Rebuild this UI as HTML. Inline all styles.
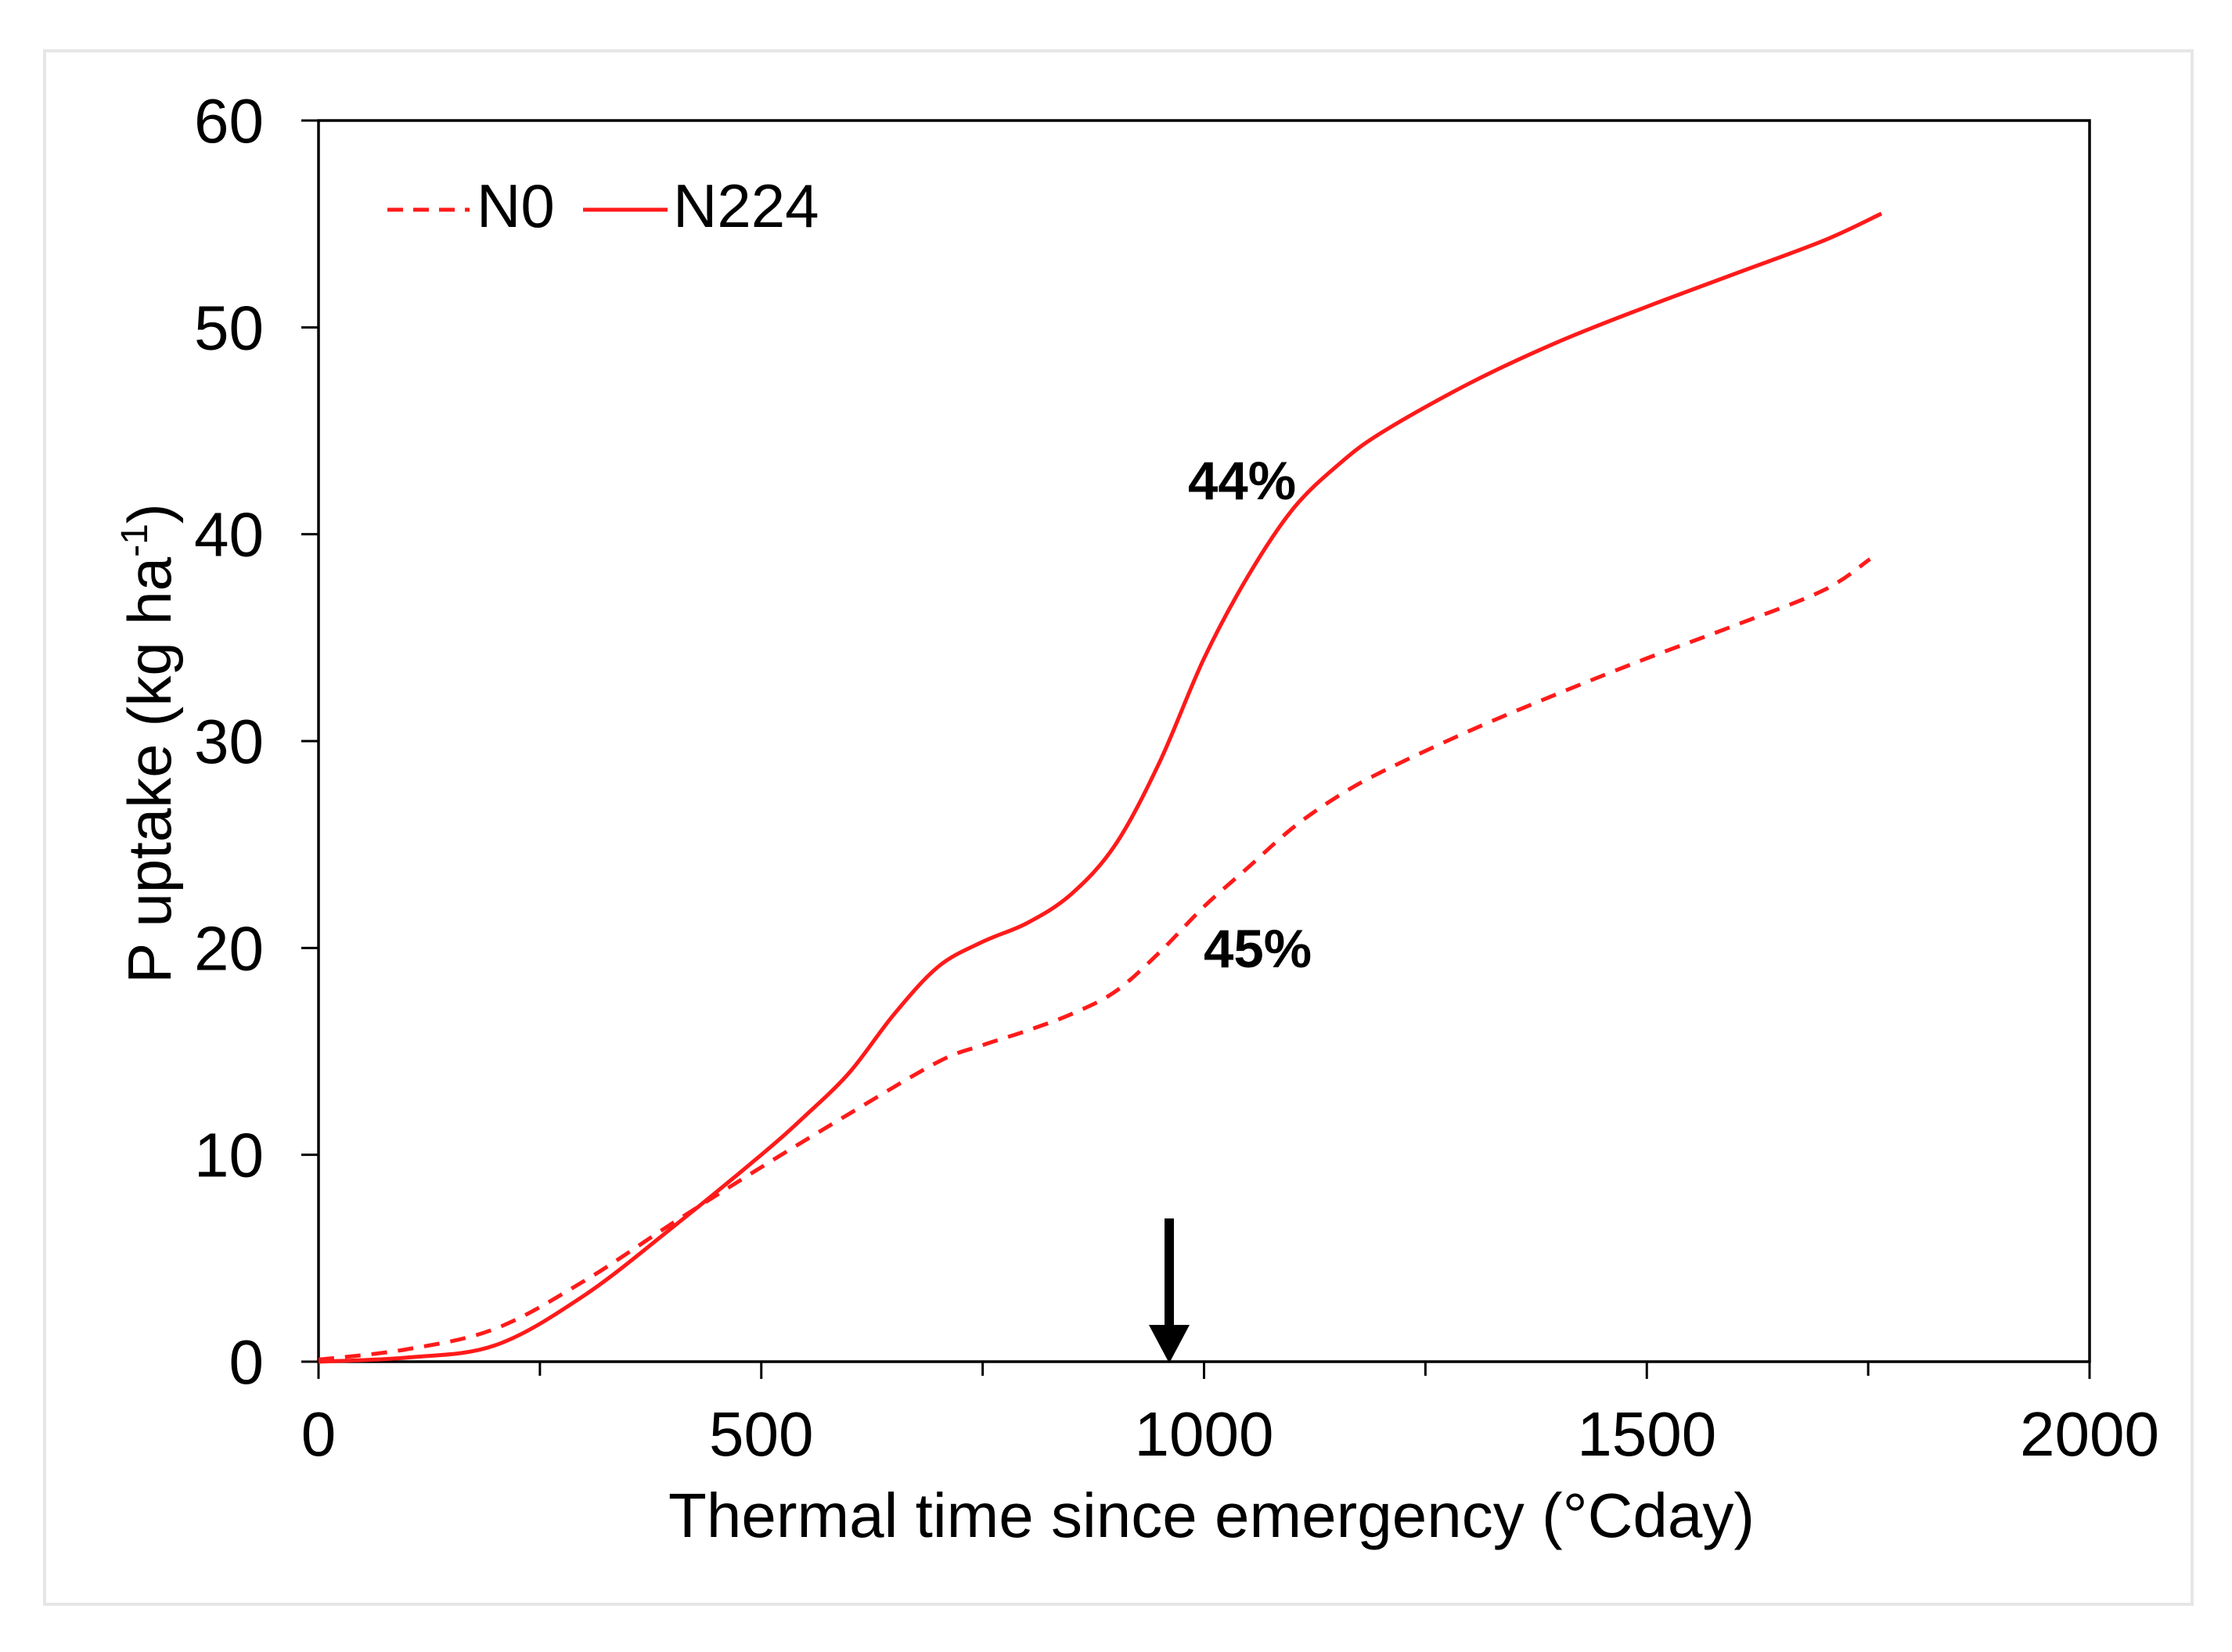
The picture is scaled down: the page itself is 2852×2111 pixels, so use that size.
<!DOCTYPE html>
<html><head><meta charset="utf-8"><style>
html,body{margin:0;padding:0;background:#fff;}
svg{display:block;}
text{font-family:"Liberation Sans",Arial,sans-serif;fill:#000;}
</style></head><body>
<svg id="chart" width="2852" height="2111" viewBox="0 0 2852 2111" xmlns="http://www.w3.org/2000/svg">
<rect x="0" y="0" width="2852" height="2111" fill="#fff"/>
<rect x="57" y="65" width="2744" height="1985" fill="#fff" stroke="#e6e6e6" stroke-width="4"/>
<g id="axes"></g>
<g id="series"></g>
<g>
  <line x1="495" y1="268" x2="600" y2="268" stroke="#ff1a1a" stroke-width="5" stroke-dasharray="20,13"/>
  <text x="609" y="290" font-size="78">N0</text>
  <line x1="745" y1="268" x2="853" y2="268" stroke="#ff1a1a" stroke-width="5"/>
  <text x="860" y="290" font-size="78">N224</text>
</g>
<text x="1518" y="638" font-size="69" font-weight="bold">44%</text>
<text x="1538" y="1236" font-size="69" font-weight="bold">45%</text>
<g>
  <rect x="1488" y="1557" width="12" height="140" fill="#000"/>
  <polygon points="1468,1693 1520,1693 1494,1742" fill="#000"/>
</g>
<text x="1548" y="1964" font-size="80" text-anchor="middle">Thermal time since emergency (°Cday)</text>
<text transform="translate(218,950) rotate(-90)" font-size="78" text-anchor="middle">P uptake (kg ha<tspan font-size="48" dy="-30">-1</tspan><tspan dy="30">)</tspan></text>
</svg>
<script>
const xTicks = [0, 500, 1000, 1500, 2000];
const xMinorTicks = [250, 750, 1250, 1750];
const yTicks = [0, 10, 20, 30, 40, 50, 60];
const xN224 = [0,100,200,300,400,500,550,600,650,700,750,800,850,900,950,1000,1050,1100,1150,1200,1300,1400,1500,1600,1700,1765];
const yN224 = [0,0.2,0.8,3.2,6.5,10,11.9,14,16.8,19.1,20.3,21.2,22.6,25,29,34,38,41.2,43.3,44.9,47.3,49.3,51,52.6,54.2,55.5];
const xN0 = [0,100,200,300,400,500,600,700,750,800,850,900,950,1000,1050,1100,1150,1200,1300,1400,1500,1600,1700,1752];
const yN0 = [0.1,0.6,1.6,3.9,6.7,9.4,12,14.5,15.3,16,16.8,17.9,19.8,22,23.9,25.8,27.3,28.5,30.5,32.3,34,35.6,37.3,38.8];

const L=407, R=2670, T=154, B=1740;
function X(v){return L+(v-0)/(2000-0)*(R-L);}
function Y(v){return B-(v-0)/(60-0)*(B-T);}
const NS="http://www.w3.org/2000/svg";
function mk(tag,attrs,parent){const e=document.createElementNS(NS,tag);for(const k in attrs)e.setAttribute(k,attrs[k]);parent.appendChild(e);return e;}
const axes=document.getElementById('axes');
const series=document.getElementById('series');

const frame=mk('rect',{x:L,y:T,width:R-L,height:B-T,fill:'none',stroke:'#000','stroke-width':3.5},axes);



yTicks.forEach(v=>{
  const t=mk('line',{x1:L-22,x2:L,y1:Y(v),y2:Y(v),stroke:'#000','stroke-width':3},axes);
  
  
  const lb=mk('text',{x:337,y:Y(v)+28,'font-size':80,'text-anchor':'end'},axes);
  lb.textContent=v;
  
  
});
xTicks.forEach(v=>{
  const t=mk('line',{x1:X(v),x2:X(v),y1:B,y2:B+22,stroke:'#000','stroke-width':3},axes);
  
  
  const lb=mk('text',{x:X(v),y:1860,'font-size':80,'text-anchor':'middle'},axes);
  lb.textContent=v;
  
  
});
xMinorTicks.forEach(v=>{
  const t=mk('line',{x1:X(v),x2:X(v),y1:B,y2:B+18,stroke:'#000','stroke-width':3},axes);
  
  
});

function smoothPath(xs,ys){
  const p=xs.map((x,i)=>[X(x),Y(ys[i])]);
  let d='M'+p[0][0]+','+p[0][1];
  for(let i=0;i<p.length-1;i++){
    const p0=p[i-1]||p[i],p1=p[i],p2=p[i+1],p3=p[i+2]||p2;
    const c1x=p1[0]+(p2[0]-p0[0])/6,c1y=p1[1]+(p2[1]-p0[1])/6;
    const c2x=p2[0]-(p3[0]-p1[0])/6,c2y=p2[1]-(p3[1]-p1[1])/6;
    d+=' C'+c1x+','+c1y+' '+c2x+','+c2y+' '+p2[0]+','+p2[1];
  }
  return d;
}
const n0=mk('path',{d:smoothPath(xN0,yN0),fill:'none',stroke:'#ff1a1a','stroke-width':5,'stroke-dasharray':'20,14'},series);


const n224=mk('path',{d:smoothPath(xN224,yN224),fill:'none',stroke:'#ff1a1a','stroke-width':5},series);


</script>
</body></html>
